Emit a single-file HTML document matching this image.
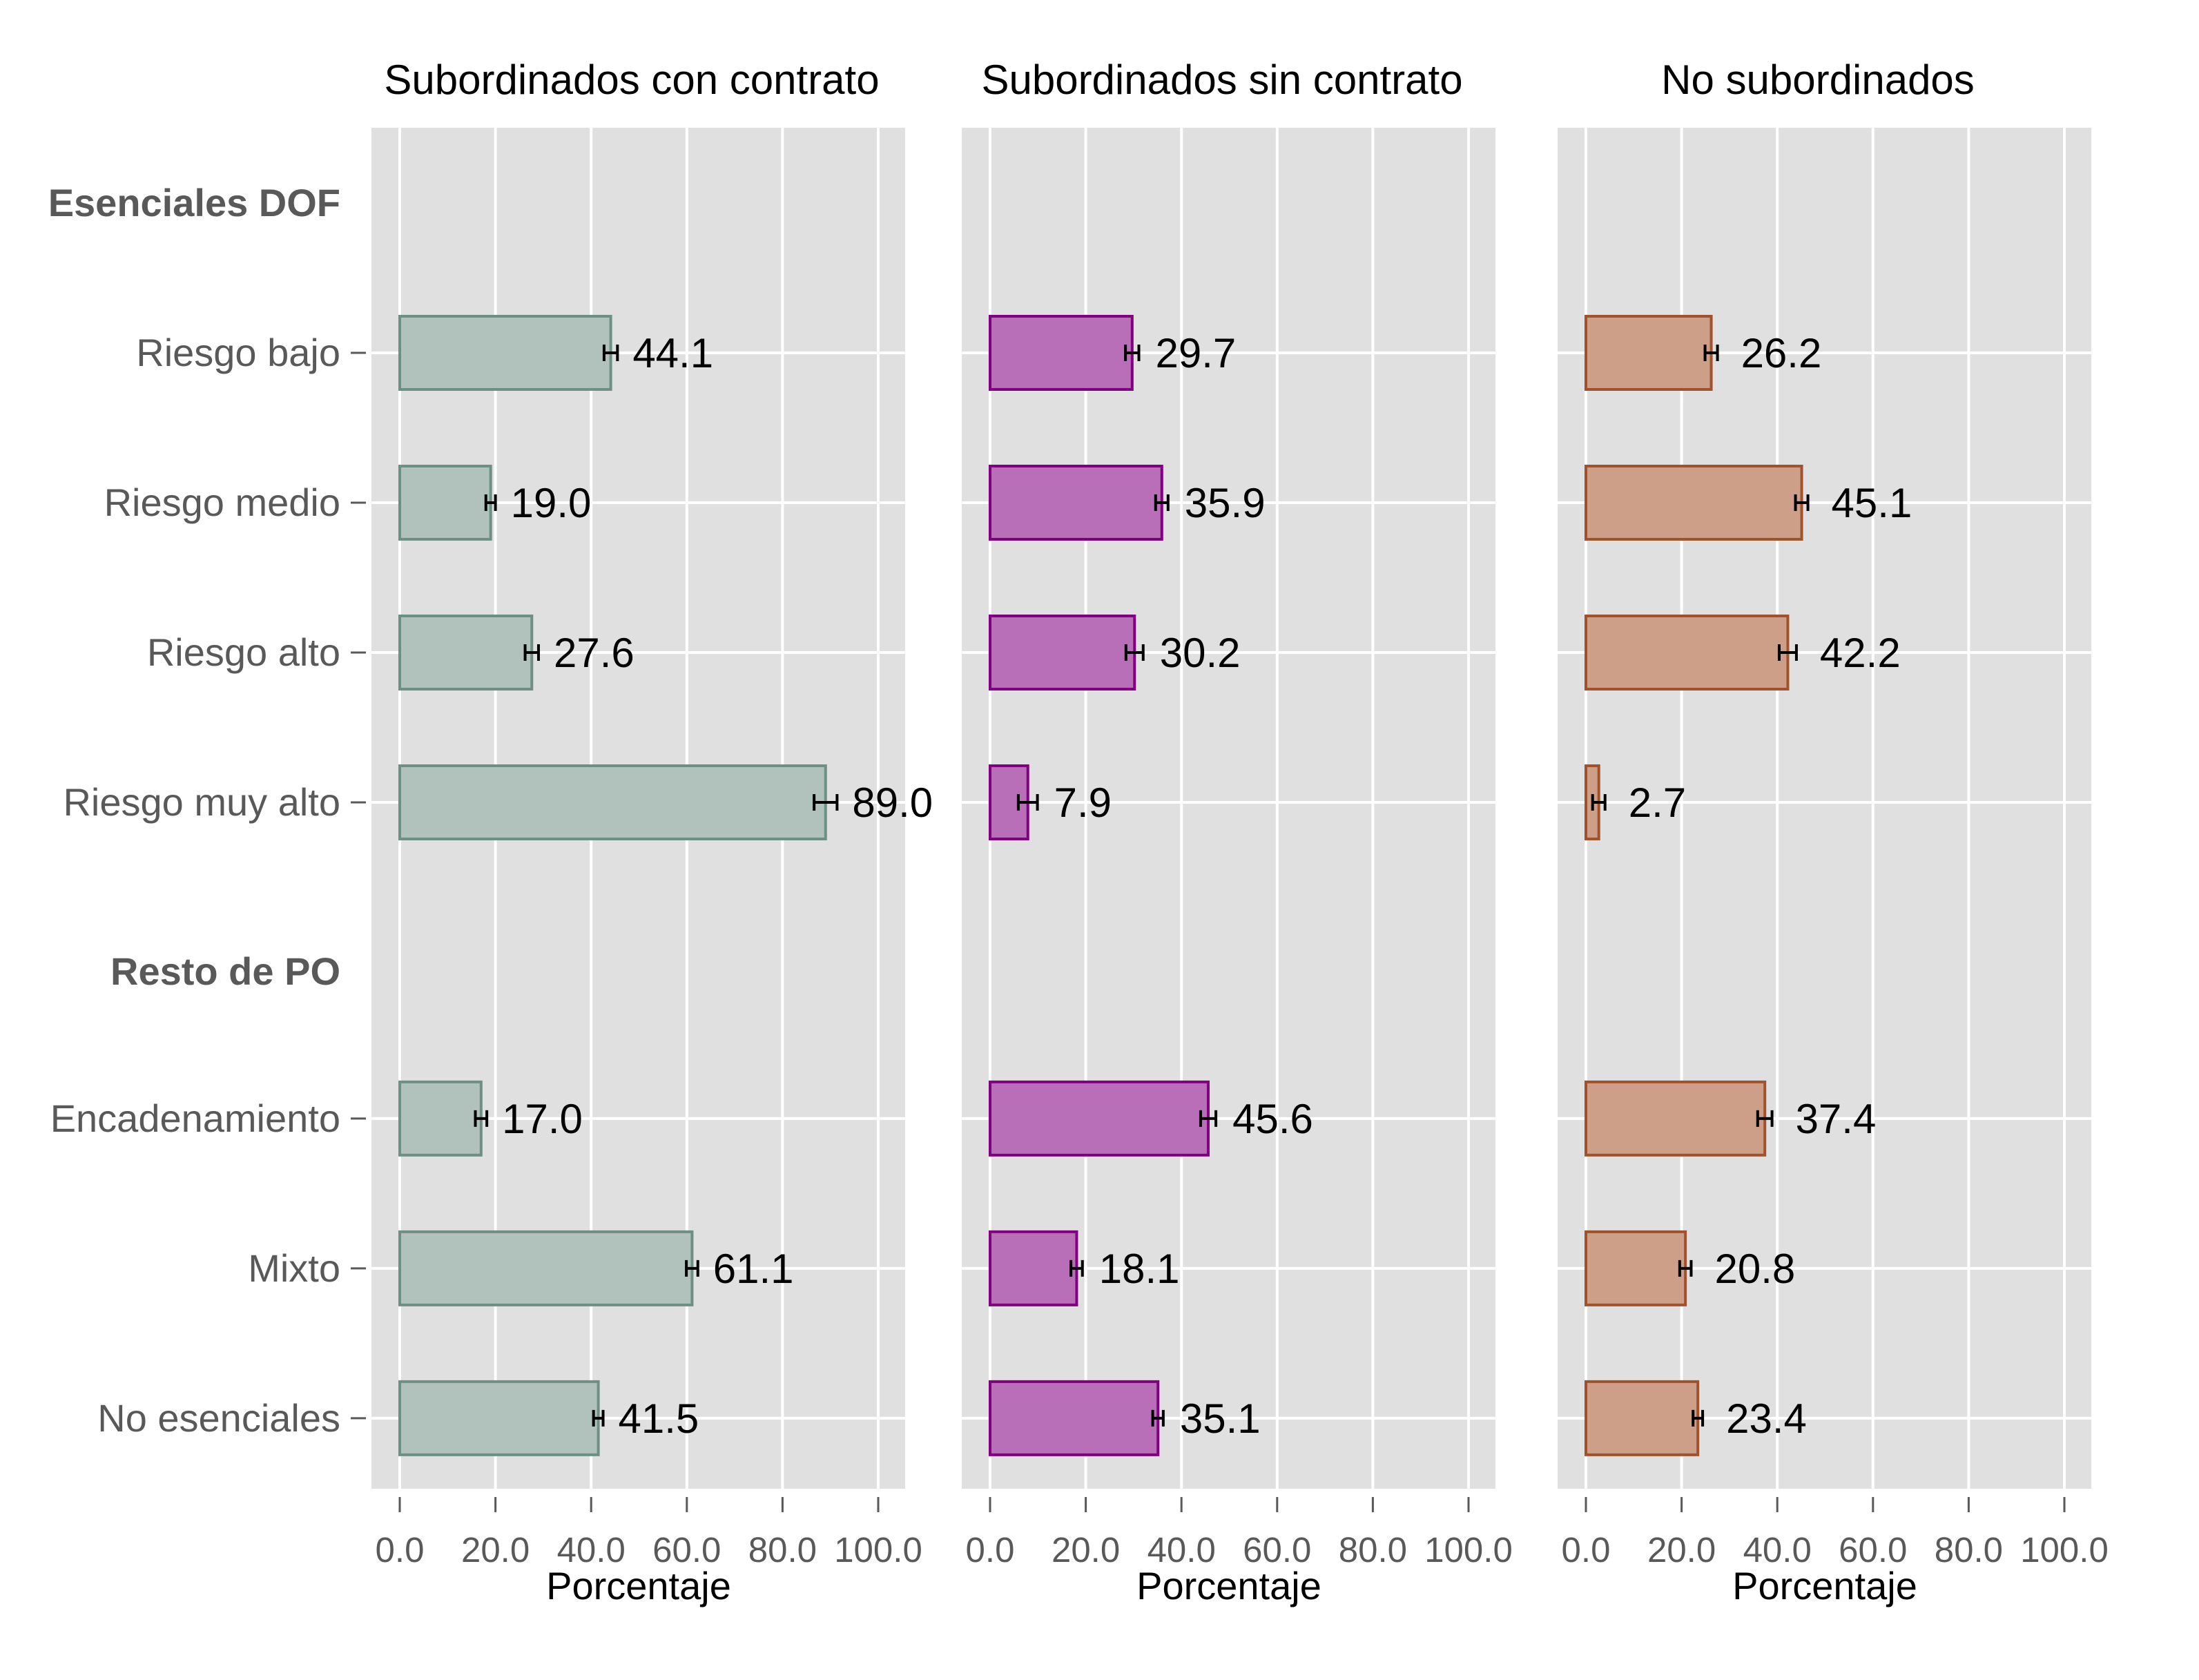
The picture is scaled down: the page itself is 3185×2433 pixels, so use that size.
<!DOCTYPE html>
<html><head><meta charset="utf-8">
<style>
html,body{margin:0;padding:0;background:#fff;}
svg{display:block;font-family:"Liberation Sans",Arial,sans-serif;}
</style></head>
<body>
<svg id="chart" width="3185" height="2433" viewBox="0 0 3185 2433" xmlns="http://www.w3.org/2000/svg"></svg>
<script>
const categories = ["Riesgo bajo","Riesgo medio","Riesgo alto","Riesgo muy alto","Encadenamiento","Mixto","No esenciales"];
const groupHeaders = ["Esenciales DOF","Resto de PO"];
const panelTitles = ["Subordinados con contrato","Subordinados sin contrato","No subordinados"];
const valuesConContrato = [44.1,19.0,27.6,89.0,17.0,61.1,41.5];
const valuesSinContrato = [29.7,35.9,30.2,7.9,45.6,18.1,35.1];
const valuesNoSubord = [26.2,45.1,42.2,2.7,37.4,20.8,23.4];
const errConContrato = [1.4,1.0,1.4,2.4,1.2,1.2,1.0];
const errSinContrato = [1.4,1.3,1.8,2.0,1.6,1.2,1.1];
const errNoSubord = [1.3,1.3,1.8,1.3,1.5,1.2,1.0];
const tickValues = [0,20,40,60,80,100];
const tickLabels = ["0.0","20.0","40.0","60.0","80.0","100.0"];

const NS="http://www.w3.org/2000/svg";
const svg=document.getElementById('chart');
function mk(tag,attrs,parent){const e=document.createElementNS(NS,tag);for(const k in attrs)e.setAttribute(k,attrs[k]);(parent||svg).appendChild(e);return e;}

const catSlot=[1,2,3,4,6.11,7.11,8.11];
const headerSlot=[0,5.13];
const yTop=294, ySpace=217;
function yScale(slot){return yTop+slot*ySpace;}
const panelZero=[579,1434,2297];
const unit=6.93;
const panelTopY=185, panelBotY=2156;
const series=[valuesConContrato,valuesSinContrato,valuesNoSubord];
const errs=[errConContrato,errSinContrato,errNoSubord];
const fills=["#b0c2bb","#b86fb8","#cd9e88"];
const strokes=["#6e8f84","#800080","#a0522d"];
const labelGap=[22,24,34];
const barHalf=53;

const yAxis=mk('g',{});


categories.forEach((c,i)=>{
  const y=yScale(catSlot[i]);
  const t=mk('text',{x:493,y:y+19,'text-anchor':'end','font-size':56,fill:'#595959'},yAxis);
  t.textContent=c;
  
  
  const tk=mk('line',{x1:508,x2:530,y1:y,y2:y,stroke:'#595959','stroke-width':3},yAxis);
  
  
});
groupHeaders.forEach((h,i)=>{
  const t=mk('text',{x:493,y:yScale(headerSlot[i])+19,'text-anchor':'end','font-size':56,'font-weight':'bold',fill:'#595959'},yAxis);
  t.textContent=h;
  
  
});

panelTitles.forEach((title,p)=>{
  const z=panelZero[p];
  const x=v=>z+v*unit;
  const g=mk('g',{});
  
  
  const bg=mk('rect',{x:z-41,y:panelTopY,width:773,height:panelBotY-panelTopY,fill:'#e0e0e0'},g);
  
  
  tickValues.forEach(v=>{
    const l=mk('line',{x1:x(v),x2:x(v),y1:panelTopY,y2:panelBotY,stroke:'#fff','stroke-width':4},g);
    
    
  });
  catSlot.forEach(s=>{
    const l=mk('line',{x1:z-41,x2:z+732,y1:yScale(s),y2:yScale(s),stroke:'#fff','stroke-width':4},g);
    
    
  });
  const tt=mk('text',{x:z+336,y:136,'text-anchor':'middle','font-size':60,fill:'#000'},g);
  tt.textContent=title;
  
  
  series[p].forEach((v,i)=>{
    const y=yScale(catSlot[i]);
    const b=mk('rect',{x:x(0),y:y-barHalf,width:x(v)-x(0),height:barHalf*2,fill:fills[p],stroke:strokes[p],'stroke-width':4},g);
    
    
    const e=errs[p][i], x1=x(v-e), x2=x(v+e);
    const eb=mk('path',{d:`M${x1},${y-12}V${y+12}M${x1},${y}H${x2}M${x2},${y-12}V${y+12}`,stroke:'#000','stroke-width':4,fill:'none'},g);
    
    
    const lt=mk('text',{x:x(v+e)+labelGap[p],y:y+21,'font-size':60,fill:'#000'},g);
    lt.textContent=v.toFixed(1);
    
    
  });
  tickValues.forEach((v,i)=>{
    const tk=mk('line',{x1:x(v),x2:x(v),y1:2168,y2:2190,stroke:'#595959','stroke-width':3},g);
    
    
    const tl=mk('text',{x:x(v),y:2262,'text-anchor':'middle','font-size':51,fill:'#595959'},g);
    tl.textContent=tickLabels[i];
    
    
  });
  const xt=mk('text',{x:z+346,y:2316,'text-anchor':'middle','font-size':56,fill:'#000'},g);
  xt.textContent='Porcentaje';
  
  
});
</script>
</body></html>
